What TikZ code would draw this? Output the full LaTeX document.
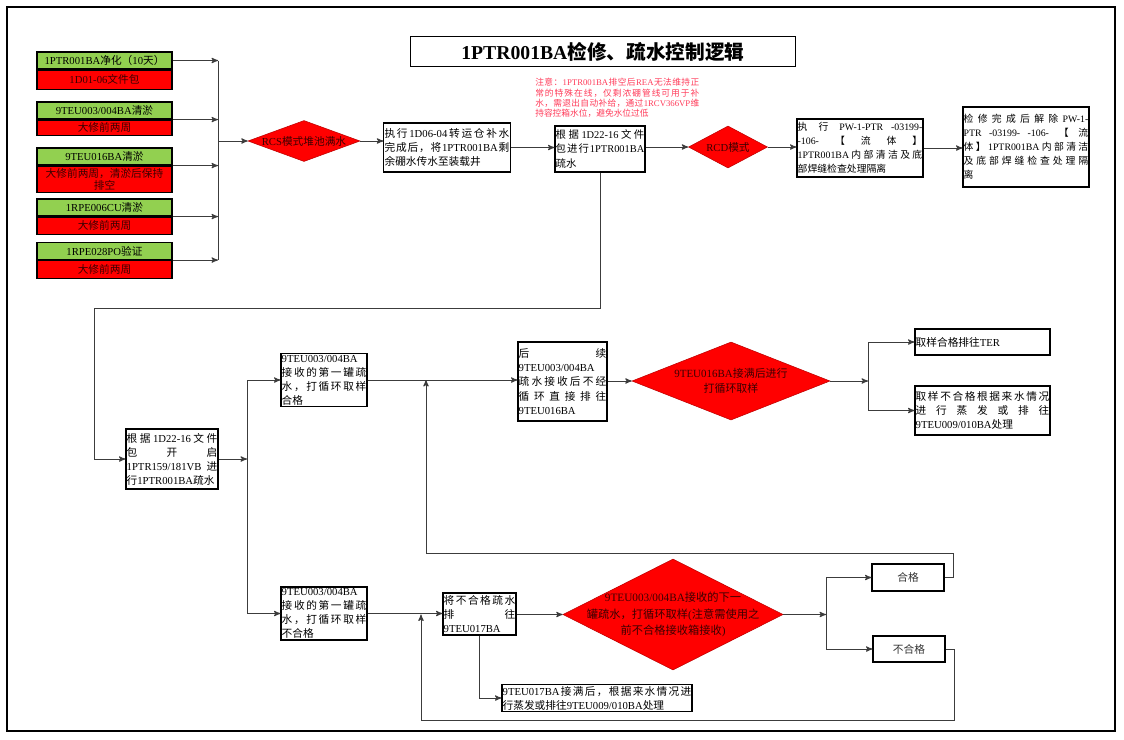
\documentclass[tikz,border=0pt]{standalone}
\usepackage{fontspec}
\setmainfont{Liberation Serif}
\newfontfamily\cjkfont{Noto Sans CJK SC}
\usetikzlibrary{arrows,shapes.geometric,positioning}

% switch to the CJK font for Chinese characters, back to Liberation Serif for the rest
\XeTeXinterchartokenstate=1
\chardef\cjkclass=7
\newcount\cjkchar
\cjkchar="3000
\loop \XeTeXcharclass\cjkchar=\cjkclass
  \ifnum\cjkchar<"9FFF \advance\cjkchar by 1 \repeat
\cjkchar="FF00
\loop \XeTeXcharclass\cjkchar=\cjkclass
  \ifnum\cjkchar<"FFEF \advance\cjkchar by 1 \repeat
\newcommand\cjkgap{\hskip 0pt plus .25em\relax}
\XeTeXinterchartoks 0 \cjkclass = {\cjkgap\cjkfont}
\XeTeXinterchartoks 4095 \cjkclass = {\cjkfont}
\XeTeXinterchartoks \cjkclass 0 = {\rmfamily\cjkgap}
\XeTeXinterchartoks \cjkclass 4095 = {\rmfamily}
\XeTeXinterchartoks \cjkclass \cjkclass = {\cjkgap}
\pretolerance=-1 \tolerance=10000 \hbadness=10000 \hfuzz=3pt
\newcommand\fullline[1]{\makebox[\hsize][s]{#1}}

\definecolor{cellgreen}{RGB}{146,208,80}
\definecolor{cellred}{RGB}{255,0,0}
\definecolor{inkred}{RGB}{60,0,0}
\definecolor{notered}{RGB}{255,60,90}
\definecolor{wire}{RGB}{60,60,60}

\begin{document}
\begin{tikzpicture}[x=0.025cm,y=-0.025cm,>=stealth',
                    font=\fontsize{7.6}{10}\selectfont]
  \tikzstyle{block}=[draw,line width=0.8pt,fill=white,inner xsep=0.5pt,inner ysep=1pt,align=justify]
  \tikzstyle{gcell}=[draw,line width=0.8pt,fill=cellgreen,minimum width=3.375cm,minimum height=0.425cm,inner sep=0pt,align=center]
  \tikzstyle{rcell}=[gcell,fill=cellred,text=inkred]
  \tikzstyle{decision}=[diamond,fill=cellred,draw=red!75!black,line width=0.4pt,inner sep=0pt]
  \tikzstyle{dtext}=[align=center,text=inkred]
  \tikzstyle{wire}=[draw=wire,line width=0.7pt]
  \tikzstyle{flow}=[wire,->]

  \useasboundingbox (0,0) rectangle (1124,739);
  \draw[line width=1.3pt] (7,7) rectangle (1115,731);

  \node[draw,line width=0.8pt,minimum width=9.625cm,minimum height=0.75cm,
        font=\fontsize{14}{16}\selectfont\bfseries] (title) at (603,51.5) {1PTR001BA检修、疏水控制逻辑};

  % preconditions
  \node[gcell] (g1) at (104.5,60.5) {1PTR001BA净化（10天）};
  \node[rcell,minimum height=0.475cm,below=0pt of g1] (r1) {1D01-06文件包};
  \node[gcell] (g2) at (104.5,110.5) {9TEU003/004BA清淤};
  \node[rcell,minimum height=0.375cm,below=0pt of g2] (r2) {大修前两周};
  \node[gcell] (g3) at (104.5,156.5) {9TEU016BA清淤};
  \node[rcell,minimum height=0.65cm,font=\fontsize{7.6}{8.6}\selectfont,below=0pt of g3] (r3) {大修前两周，清淤后保持\\排空};
  \node[gcell] (g4) at (104.5,207.5) {1RPE006CU清淤};
  \node[rcell,minimum height=0.425cm,below=0pt of g4] (r4) {大修前两周};
  \node[gcell] (g5) at (104.5,251) {1RPE028PO验证};
  \node[rcell,minimum height=0.45cm,below=0pt of g5] (r5) {大修前两周};

  \coordinate (bus) at (218,141);
  \draw[flow] (g1.east) -- (g1.east -| bus);
  \draw[flow] (g2.south east) -- (g2.south east -| bus);
  \draw[flow] (g3.south east) -- (g3.south east -| bus);
  \draw[flow] (g4.south east) -- (g4.south east -| bus);
  \draw[flow] (g5.south east) -- (g5.south east -| bus);
  \draw[wire] (g1.east -| bus) -- (g5.south east -| bus);

  % upper row
  \node[decision,minimum width=2.8cm,minimum height=1.025cm] (rcs) at (304,141) {};
  \node[dtext] (rcs-t) at (rcs) {RCS模式堆池满水};
  \node[block,text width=3.12cm,minimum height=1.225cm] (b1) at (447,147.5) {执行1D06-04转运仓补水\break 完成后，将1PTR001BA剩\break 余硼水传水至装载井};
  \node[block,text width=2.215cm,minimum height=1.15cm,font=\fontsize{7.4}{10}\selectfont] (b2) at (600,149) {根据1D22-16文件\break 包进行1PTR001BA\break 疏水};
  \node[anchor=north west,text width=4.1cm,align=justify,inner sep=0pt,text=notered,
        font=\fontsize{6.2}{7.4}\selectfont] (note) at (535,78) {注意：1PTR001BA排空后REA无法维持正\break 常的特殊在线，仅剩浓硼管线可用于补\break 水，需退出自动补给，通过1RCV366VP维\break 持容控箱水位，避免水位过低};
  \node[decision,minimum width=1.975cm,minimum height=1.05cm] (rcd) at (728,147) {};
  \node[dtext] (rcd-t) at (rcd) {RCD模式};
  \node[block,text width=3.115cm,minimum height=1.45cm,font=\fontsize{7}{10}\selectfont] (b3) at (860,148) {执行PW-1-PTR -03199-\break -106-【流体】\break 1PTR001BA内部清洁及底\break 部焊缝检查处理隔离};
  \node[block,text width=3.115cm,minimum height=2cm,font=\fontsize{7}{10}\selectfont] (b4) at (1026,147) {检修完成后解除PW-1-\break PTR -03199- -106-【流\break 体】1PTR001BA内部清洁\break 及底部焊缝检查处理隔\break 离};

  \draw[flow] (bus) -- (rcs);
  \draw[flow] (rcs.east) -- (rcs.east -| b1.west);
  \draw[flow] (b1.east) -- (b1.east -| b2.west);
  \draw[flow] (b2.east |- rcd) -- (rcd);
  \draw[flow] (rcd) -- (rcd -| b3.west);
  \draw[flow] (b3.east) -- (b3.east -| b4.west);

  % drain
  \node[block,text width=2.265cm,minimum height=1.5cm] (b5) at (172,459) {根据1D22-16文件\break 包开启\break 1PTR159/181VB进\break 行1PTR001BA疏水};
  \coordinate (turn) at (94,308);
  \draw[flow] (b2.south) |- (turn) |- (b5.west);

  \node[block,text width=2.115cm,minimum height=1.3cm] (b6) at (324,380) {9TEU003/004BA\break 接收的第一罐疏\break 水，打循环取样\break 合格};
  \node[block,text width=2.115cm,minimum height=1.275cm] (b7) at (324,613.5) {9TEU003/004BA\break 接收的第一罐疏\break 水，打循环取样\break 不合格};
  \coordinate (s1) at (247,459);
  \draw[flow] (b5.east) -- (b5.east -| s1);
  \draw[wire] (s1 |- b6.west) -- (s1 |- b7.west);
  \draw[flow] (s1 |- b6.west) -- (b6.west);
  \draw[flow] (s1 |- b7.west) -- (b7.west);

  % sample passed
  \node[block,text width=2.19cm,minimum height=1.975cm] (b8) at (562.5,381.5) {后续\break 9TEU003/004BA\break 疏水接收后不经\break 循环直接排往\break 9TEU016BA};
  \node[decision,minimum width=4.95cm,minimum height=1.95cm] (d3) at (731,381) {};
  \node[dtext,font=\fontsize{7.8}{10.6}\selectfont] (d3-t) at (d3) {9TEU016BA接满后进行\\打循环取样};
  \node[block,text width=3.34cm,minimum height=0.65cm] (b9) at (982.5,342) {取样合格排往TER};
  \node[block,text width=3.34cm,minimum height=1.225cm] (b10) at (982.5,410.5) {取样不合格根据来水情况\break 进行蒸发或排往\break 9TEU009/010BA处理};
  \coordinate (s2) at (868,381);
  \draw[flow] (b6.east) -- (b6.east -| b8.west);
  \draw[flow] (b8.east |- d3) -- (d3);
  \draw[flow] (d3) -- (s2);
  \draw[wire] (s2 |- b9.west) -- (s2 |- b10.west);
  \draw[flow] (s2 |- b9.west) -- (b9.west);
  \draw[flow] (s2 |- b10.west) -- (b10.west);

  % sample failed
  \node[block,text width=1.79cm,minimum height=1.05cm] (b11) at (479.5,614) {\fullline{将不合格疏水}\break \fullline{排往}\break 9TEU017BA};
  \node[decision,minimum width=5.5cm,minimum height=2.775cm] (d4) at (673,614.5) {};
  \node[dtext,font=\fontsize{8}{11.5}\selectfont] (d4-t) at (d4) {9TEU003/004BA接收的下一\\罐疏水，打循环取样(注意需使用之\\前不合格接收箱接收)};
  \node[block,align=center,minimum width=1.8cm,minimum height=0.675cm,text=black!80] (ok) at (908,577.5) {合格};
  \node[block,align=center,minimum width=1.8cm,minimum height=0.65cm,text=black!80] (nok) at (909,649) {不合格};
  \node[block,text width=4.715cm,minimum height=0.65cm] (b12) at (597,698) {9TEU017BA接满后，根据来水情况进\break 行蒸发或排往9TEU009/010BA处理};
  \coordinate (s3) at (826,614.5);
  \draw[flow] (b7.east) -- (b7.east -| b11.west);
  \draw[flow] (b11.east |- d4) -- (d4);
  \draw[flow] (d4) -- (s3);
  \draw[wire] (s3 |- ok.west) -- (s3 |- nok.west);
  \draw[flow] (s3 |- ok.west) -- (ok.west);
  \draw[flow] (s3 |- nok.west) -- (nok.west);
  \draw[flow] (b11.south) |- (b12.west);

  % loops back
  \coordinate (back1) at (953,553);
  \coordinate (join1) at (426,380);
  \draw[flow] (ok.east) -| (back1) -| (join1);
  \coordinate (back2) at (954,720);
  \coordinate (join2) at (421,614.5);
  \draw[flow] (nok.east) -| (back2) -| (join2);
\end{tikzpicture}
\end{document}
